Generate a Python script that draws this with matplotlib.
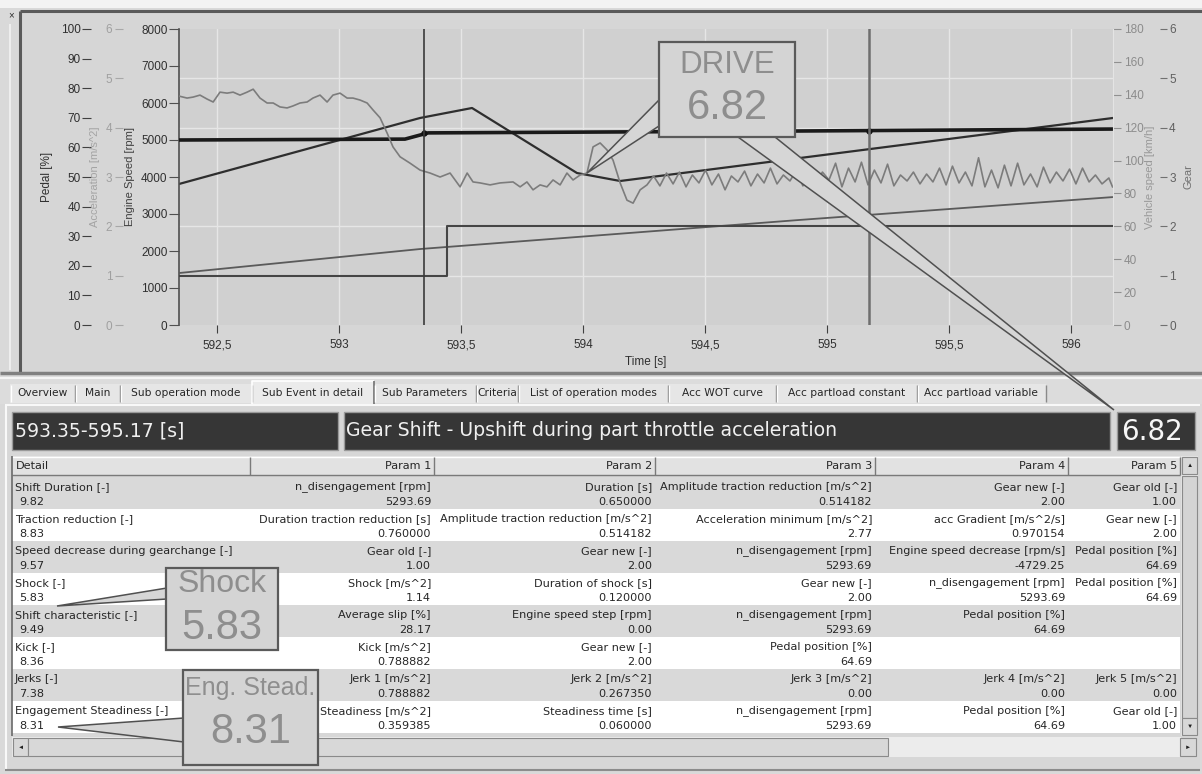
import matplotlib
matplotlib.use("Agg")
import matplotlib.pyplot as plt
from matplotlib.patches import Rectangle, Polygon
from matplotlib.ticker import FuncFormatter

plt.rcParams['font.family'] = ['Liberation Sans', 'DejaVu Sans']

W, H = 1202, 774

# ---- chart series ----
t_engine = [592.344, 593.332, 593.545, 593.975, 594.152, 596.172]
engine_speed = [3811, 5595, 5865, 4108, 3892, 5595]

t_pedal = [592.344, 593.270, 593.365, 594.807, 596.172]
pedal = [62.5, 62.8, 64.9, 65.5, 66.2]

t_speed = [592.344, 593.332, 594.889, 596.172]
vehicle_speed = [31.6, 46.2, 63.9, 77.8]

t_gear = [592.344, 593.443, 596.172]
gear = [1, 2, 2]

t_acc = [592.344, 592.377, 592.402, 592.430, 592.459, 592.484, 592.512, 592.541,
         592.566, 592.594, 592.623, 592.648, 592.676, 592.705, 592.730, 592.758,
         592.787, 592.811, 592.840, 592.869, 592.893, 592.922, 592.951, 592.975,
         593.004, 593.033, 593.057, 593.086, 593.115, 593.139, 593.168, 593.197,
         593.221, 593.250, 593.291, 593.332, 593.373, 593.414, 593.455, 593.496,
         593.525, 593.549, 593.578, 593.619, 593.660, 593.713, 593.742, 593.770,
         593.795, 593.824, 593.852, 593.877, 593.906, 593.934, 593.959, 593.988,
         594.016, 594.041, 594.070, 594.098, 594.123, 594.152, 594.180, 594.205,
         594.234,
         594.262, 594.289, 594.315, 594.342, 594.369, 594.395, 594.422, 594.448,
         594.475, 594.502, 594.528, 594.555, 594.582, 594.608, 594.635, 594.662,
         594.688, 594.715, 594.742, 594.768, 594.795, 594.821, 594.848, 594.875,
         594.901, 594.928, 594.955, 594.981, 595.008, 595.035, 595.061, 595.088,
         595.115, 595.141, 595.168, 595.194, 595.221, 595.248, 595.274, 595.301,
         595.328, 595.354, 595.381, 595.408, 595.434, 595.461, 595.488, 595.514,
         595.541, 595.567, 595.594, 595.621, 595.647, 595.674, 595.701, 595.727,
         595.754, 595.781, 595.807, 595.834, 595.861, 595.887, 595.914, 595.940,
         595.967, 595.994, 596.020, 596.047, 596.074, 596.100, 596.127, 596.155,
         596.170]
acceleration = [4.64, 4.60, 4.62, 4.66, 4.58, 4.52, 4.72, 4.70,
                4.72, 4.66, 4.72, 4.78, 4.60, 4.50, 4.50, 4.42,
                4.40, 4.44, 4.50, 4.52, 4.60, 4.66, 4.52, 4.66,
                4.70, 4.60, 4.60, 4.56, 4.50, 4.36, 4.20, 3.89,
                3.61, 3.41, 3.28, 3.14, 3.08, 3.00, 3.08, 2.80,
                3.08, 2.90, 2.88, 2.84, 2.88, 2.90, 2.80, 2.90,
                2.74, 2.84, 2.80, 2.94, 2.84, 3.08, 2.94, 3.04,
                3.08, 3.61, 3.69, 3.55, 3.34, 2.88, 2.53, 2.47,
                2.74,
                2.84, 3.02, 2.82, 3.08, 2.86, 3.10, 2.80, 3.04,
                2.88, 3.14, 2.84, 3.06, 2.74, 3.02, 2.90, 3.12,
                2.82, 3.06, 2.88, 3.18, 2.86, 3.04, 2.92, 3.14,
                2.82, 3.22, 2.86, 3.10, 2.94, 3.28, 2.80, 3.18,
                2.90, 3.30, 2.84, 3.14, 2.88, 3.26, 2.82, 3.04,
                2.92, 3.10, 2.86, 3.06, 2.90, 3.18, 2.84, 3.22,
                2.88, 3.10, 2.82, 3.39, 2.80, 3.14, 2.78, 3.24,
                2.82, 3.28, 2.84, 3.06, 2.80, 3.20, 2.88, 3.10,
                2.92, 3.16, 2.86, 3.18, 2.90, 3.04, 2.86, 2.98,
                2.80]

event_start, event_end = 593.35, 595.17
pedal_at_cursor = [64.7, 65.6]
x_ticks = [592.5, 593, 593.5, 594, 594.5, 595, 595.5, 596]

# ---- UI texts ----
tabs = ["Overview", "Main", "Sub operation mode", "Sub Event in detail", "Sub Parameters",
        "Criteria", "List of operation modes", "Acc WOT curve", "Acc partload constant",
        "Acc partload variable"]
tab_edges = [10, 75, 120, 252, 374, 476, 518, 668, 776, 917, 1046]
active_tab = 3

event_range = "593.35-595.17 [s]"
event_name = "Gear Shift - Upshift during part throttle acceleration"
event_score = "6.82"

columns = ["Detail", "Param 1", "Param 2", "Param 3", "Param 4", "Param 5"]
col_edges = [12, 250, 434, 655, 875, 1068, 1180]

criteria = ["Shift Duration [-]", "Traction reduction [-]", "Speed decrease during gearchange [-]",
            "Shock [-]", "Shift characteristic [-]", "Kick [-]", "Jerks [-]",
            "Engagement Steadiness [-]"]
scores = ["9.82", "8.83", "9.57", "5.83", "9.49", "8.36", "7.38", "8.31"]
params = [
    [("n_disengagement [rpm]", "5293.69"), ("Duration [s]", "0.650000"),
     ("Amplitude traction reduction [m/s^2]", "0.514182"), ("Gear new [-]", "2.00"),
     ("Gear old [-]", "1.00")],
    [("Duration traction reduction [s]", "0.760000"), ("Amplitude traction reduction [m/s^2]", "0.514182"),
     ("Acceleration minimum [m/s^2]", "2.77"), ("acc Gradient [m/s^2/s]", "0.970154"),
     ("Gear new [-]", "2.00")],
    [("Gear old [-]", "1.00"), ("Gear new [-]", "2.00"), ("n_disengagement [rpm]", "5293.69"),
     ("Engine speed decrease [rpm/s]", "-4729.25"), ("Pedal position [%]", "64.69")],
    [("Shock [m/s^2]", "1.14"), ("Duration of shock [s]", "0.120000"), ("Gear new [-]", "2.00"),
     ("n_disengagement [rpm]", "5293.69"), ("Pedal position [%]", "64.69")],
    [("Average slip [%]", "28.17"), ("Engine speed step [rpm]", "0.00"),
     ("n_disengagement [rpm]", "5293.69"), ("Pedal position [%]", "64.69"), None],
    [("Kick [m/s^2]", "0.788882"), ("Gear new [-]", "2.00"), ("Pedal position [%]", "64.69"), None, None],
    [("Jerk 1 [m/s^2]", "0.788882"), ("Jerk 2 [m/s^2]", "0.267350"), ("Jerk 3 [m/s^2]", "0.00"),
     ("Jerk 4 [m/s^2]", "0.00"), ("Jerk 5 [m/s^2]", "0.00")],
    [("Steadiness [m/s^2]", "0.359385"), ("Steadiness time [s]", "0.060000"),
     ("n_disengagement [rpm]", "5293.69"), ("Pedal position [%]", "64.69"), ("Gear old [-]", "1.00")],
]

callouts = [("DRIVE", "6.82"), ("Shock", "5.83"), ("Eng. Stead.", "8.31")]

UI_FONT = ['DejaVu Sans']
TXT = '#262626'


def box(a, x0, y0, x1, y1, fc, ec='none', lw=0.0, z=1):
    a.add_patch(Rectangle((x0, y0), x1 - x0, y1 - y0, facecolor=fc, edgecolor=ec, linewidth=lw, zorder=z))


def seg(a, xs, ys, color, lw=1.0, z=2):
    a.plot(xs, ys, color=color, lw=lw, zorder=z, solid_capstyle='butt')


def cell_text(x, y, s, ha='left', size=8.1):
    ui.text(x, y, s, fontsize=size, family=UI_FONT, ha=ha, va='center', color=TXT, zorder=4)


fig = plt.figure(figsize=(W / 100, H / 100), dpi=100)
fig.patch.set_facecolor('#d9d9d9')

# background UI layer in pixel coordinates
ui = fig.add_axes([0, 0, 1, 1])
ui.set_xlim(0, W)
ui.set_ylim(H, 0)
ui.axis('off')

box(ui, 0, 0, W, 8, '#f3f3f3')
box(ui, 20, 11, W, 372, '#d6d6d6')
seg(ui, [20, W], [11, 11], '#5a5a5a', 2.2)
seg(ui, [20, 20], [11, 372], '#5a5a5a', 2.2)
seg(ui, [0, W], [373, 373], '#808080', 2.5)
seg(ui, [0, W], [377.5, 377.5], '#f4f4f4', 1.5)
seg(ui, [10, 10], [24, 370], '#eeeeee', 1.5)
ui.text(11.5, 15, '×', fontsize=7, ha='center', va='center', color='#303030')

# tab strip
box(ui, 0, 379, W, 404, '#dcdcdc')
for i, name in enumerate(tabs):
    x0, x1 = tab_edges[i], tab_edges[i + 1]
    if i == active_tab:
        box(ui, x0, 381, x1, 404, '#ebebeb', z=2)
        seg(ui, [x0, x0, x1], [404, 381, 381], '#ffffff', 1.2, 3)
        seg(ui, [x1, x1], [381, 404], '#707070', 1.2, 3)
    else:
        box(ui, x0, 384, x1, 403, '#e6e6e6', z=2)
        seg(ui, [x0 + 1, x0 + 1], [385, 402], '#ffffff', 1.0, 3)
        seg(ui, [x1, x1], [385, 402], '#8a8a8a', 1.0, 3)
    ui.text((x0 + x1) / 2, 393.5, name, fontsize=7.7, family=UI_FONT, ha='center', va='center',
            color=TXT, zorder=4)

# detail panel
box(ui, 5, 404, 1200, 771, '#d7d7d7')
seg(ui, [5, 1200], [405, 405], '#f8f8f8', 1.5)
seg(ui, [6, 6], [405, 770], '#f8f8f8', 1.5)
seg(ui, [5, 1200], [770, 770], '#8c8c8c', 1.5)

# dark header boxes
for (x0, x1) in [(12, 338), (344, 1110), (1117, 1195)]:
    box(ui, x0, 412, x1, 450, '#363636', ec='#9a9a9a', lw=1.0, z=2)
ui.text(15, 431, event_range, fontsize=13.6, family=UI_FONT, color='#f0f0f0', va='center', zorder=3)
ui.text(346, 431, event_name, fontsize=13.6, family=UI_FONT, color='#f0f0f0', va='center', zorder=3)
ui.text(1121, 432, event_score, fontsize=20, family=UI_FONT, color='#f6f6f6', va='center', zorder=3)

# table header
box(ui, 12, 456, 1180, 475, '#e2e2e2', z=2)
seg(ui, [12, 1180], [456.5, 456.5], '#ffffff', 1.0, 3)
seg(ui, [12, 1180], [475, 475], '#7a7a7a', 1.0, 3)
for i, name in enumerate(columns):
    x0, x1 = col_edges[i], col_edges[i + 1]
    seg(ui, [x1, x1], [457, 475], '#7a7a7a', 1.0, 3)
    if i == 0:
        cell_text(x0 + 4, 466, name)
    else:
        cell_text(x1 - 3, 466, name, ha='right')

# table rows
row_top, row_h = 477, 32
for r in range(len(criteria)):
    y0 = row_top + r * row_h
    box(ui, 12, y0, 1180, y0 + row_h, '#d9d9d9' if r % 2 == 0 else '#ffffff', z=2)
    cell_text(15, y0 + 10, criteria[r])
    cell_text(19, y0 + 25, scores[r])
    for c, cell in enumerate(params[r]):
        if cell is None:
            continue
        xr = col_edges[c + 2] - 3
        cell_text(xr, y0 + 10, cell[0], ha='right')
        cell_text(xr, y0 + 25, cell[1], ha='right')
seg(ui, [12, 12], [456, 736], '#6a6a6a', 1.2, 5)

# scroll bars
box(ui, 1181, 456, 1198, 736, '#e6e6e6', z=2)
box(ui, 1182, 476, 1197, 718, '#d4d4d4', ec='#8a8a8a', lw=0.8, z=3)
box(ui, 1182, 457, 1197, 474, '#d8d8d8', ec='#8a8a8a', lw=0.8, z=3)
box(ui, 1182, 718, 1197, 735, '#d8d8d8', ec='#8a8a8a', lw=0.8, z=3)
ui.text(1189.5, 465.5, '▲', fontsize=4.5, ha='center', va='center', color='#202020', zorder=4)
ui.text(1189.5, 726.5, '▼', fontsize=4.5, ha='center', va='center', color='#202020', zorder=4)
box(ui, 12, 737, 1181, 757, '#ececec', z=2)
box(ui, 13, 738, 28, 756, '#d8d8d8', ec='#8a8a8a', lw=0.8, z=3)
box(ui, 28, 738, 888, 756, '#d8d8d8', ec='#8a8a8a', lw=0.8, z=3)
box(ui, 1180, 738, 1196, 756, '#d8d8d8', ec='#8a8a8a', lw=0.8, z=3)
ui.text(20.5, 747, '◄', fontsize=4.5, ha='center', va='center', color='#202020', zorder=4)
ui.text(1188, 747, '►', fontsize=4.5, ha='center', va='center', color='#202020', zorder=4)

# ---- chart ----
def px_rect(x0, y0, x1, y1):
    return [x0 / W, 1 - y1 / H, (x1 - x0) / W, (y1 - y0) / H]


ax = fig.add_axes(px_rect(179, 29, 1113, 325))
ax.set_facecolor('#d0d0d0')
ax_p = ax.twinx()
ax_a = ax.twinx()
ax_s = ax.twinx()
ax_g = ax.twinx()

for a in (ax, ax_p, ax_a, ax_s, ax_g):
    for sp in a.spines.values():
        sp.set_visible(False)
    a.set_xlim(592.344, 596.172)

PT = 0.72  # points per pixel
TICK_FS = 8.5

# engine speed axis (inner left)
ax.set_ylim(0, 8000)
ax.set_yticks(range(0, 8001, 1000))
ax.spines['left'].set_visible(True)
ax.spines['left'].set_color('#505050')
ax.spines['left'].set_linewidth(1.2)
ax.tick_params(axis='y', length=10 * PT, pad=1, labelsize=TICK_FS, color='#505050', labelcolor='#303030')
ax.set_ylabel('Engine Speed [rpm]', color='#404040', fontsize=8, va='center')
ax.yaxis.set_label_coords((130 - 179) / 934, 0.5)
ax.set_yticks([8000 * k / 6 for k in range(7)], minor=True)
ax.tick_params(axis='y', which='minor', length=0)
ax.set_xticks(x_ticks)
ax.xaxis.set_major_formatter(FuncFormatter(lambda v, p: f"{v:g}".replace('.', ',')))
ax.tick_params(axis='x', length=8 * PT, pad=4.5, labelsize=TICK_FS, color='#404040', labelcolor='#303030')
ax.set_xlabel('Time [s]', fontsize=8.5, color='#303030', va='top')
ax.xaxis.set_label_coords(0.5, (325 - 356) / 296)
ax.grid(axis='x', color='#e6e6e6', lw=1.0)
ax.grid(axis='y', which='minor', color='#e6e6e6', lw=1.0)
ax.set_axisbelow(True)

# pedal and acceleration axes (outer left)
for a, xpix in ((ax_p, 91), (ax_a, 123)):
    a.yaxis.tick_left()
    a.yaxis.set_label_position('left')
    a.spines['left'].set_position(('axes', (xpix - 179) / 934))

ax_p.set_ylim(0, 100)
ax_p.set_yticks(range(0, 101, 10))
ax_p.tick_params(axis='y', length=9 * PT, pad=1, labelsize=TICK_FS, color='#404040', labelcolor='#303030')
ax_p.set_ylabel('Pedal [%]', color='#303030', fontsize=8.5, va='center')
ax_p.yaxis.set_label_coords((47 - 179) / 934, 0.5)

ax_a.set_ylim(0, 6)
ax_a.set_yticks(range(0, 7))
ax_a.tick_params(axis='y', length=8 * PT, pad=2, labelsize=TICK_FS, color='#a8a8a8', labelcolor='#a0a0a0')
ax_a.set_ylabel('Acceleration [m/s^2]', color='#a4a4a4', fontsize=8, va='center')
ax_a.yaxis.set_label_coords((95 - 179) / 934, 0.5)

# vehicle speed and gear axes (right)
ax_s.set_ylim(0, 180)
ax_s.set_yticks(range(0, 181, 20))
ax_s.spines['right'].set_visible(True)
ax_s.spines['right'].set_color('#e4e4e4')
ax_s.tick_params(axis='y', length=8 * PT, pad=2, labelsize=TICK_FS, color='#909090', labelcolor='#8c8c8c')
ax_s.set_ylabel('Vehicle speed [km/h]', color='#999999', fontsize=8)
ax_s.yaxis.label.set_va('center')
ax_s.yaxis.set_label_coords((1150 - 179) / 934, 0.5)

ax_g.spines['right'].set_position(('axes', (1160 - 179) / 934))
ax_g.set_ylim(0, 6)
ax_g.set_yticks(range(0, 7))
ax_g.tick_params(axis='y', length=7 * PT, pad=1.5, labelsize=TICK_FS, color='#707070', labelcolor='#606060')
ax_g.set_ylabel('Gear', color='#707070', fontsize=8)
ax_g.yaxis.label.set_va('center')
ax_g.yaxis.set_label_coords((1188 - 179) / 934, 0.5)

# series
ax_a.plot(t_acc, acceleration, color='#7c7c7c', lw=1.2)
ax_s.plot(t_speed, vehicle_speed, color='#5a5a5a', lw=1.3)
ax.plot(t_engine, engine_speed, color='#2e2e2e', lw=1.6)
ax_g.plot(t_gear, gear, color='#454545', lw=1.5, drawstyle='steps-post')
ax_p.plot(t_pedal, pedal, color='#1a1a1a', lw=2.6)
ax_g.axvline(event_start, color='#3a3a3a', lw=1.2)
ax_g.axvline(event_end, color='#6e6e6e', lw=1.8)
ax_p.plot([event_start, event_end], pedal_at_cursor, 'o', color='#111111', ms=3.5)

# ---- callouts overlay ----
ov = fig.add_axes([0, 0, 1, 1], zorder=5)
ov.set_xlim(0, W)
ov.set_ylim(H, 0)
ov.axis('off')

wedge_fc, wedge_ec = '#d6d6d6', '#505050'
for pts in ([(659, 100), (587, 173), (659, 126)],
            [(738, 137), (1114, 410), (775, 137)],
            [(167, 588), (57, 606), (167, 599)],
            [(184, 718), (58, 727), (184, 742)]):
    ov.add_patch(Polygon(pts, closed=True, facecolor=wedge_fc, edgecolor=wedge_ec, lw=1.1, zorder=2))

callout_boxes = [(659, 42, 795, 137), (166, 568, 278, 650), (183, 670, 318, 765)]
title_sizes = [22.5, 23, 18]
text_offsets = [(23, 66), (16, 60), (18, 62)]
for (title, value), (x0, y0, x1, y1), fs, (dy1, dy2) in zip(callouts, callout_boxes, title_sizes, text_offsets):
    box(ov, x0, y0, x1, y1, '#d4d4d4', ec='#5a5a5a', lw=1.6, z=3)
    xc = (x0 + x1) / 2
    ov.text(xc, y0 + dy1, title, fontsize=fs, ha='center', va='center', color='#8e8e8e', zorder=4)
    ov.text(xc, y0 + dy2, value, fontsize=30, ha='center', va='center', color='#8e8e8e', zorder=4)

fig.savefig('out.png', dpi=100, facecolor=fig.get_facecolor())
